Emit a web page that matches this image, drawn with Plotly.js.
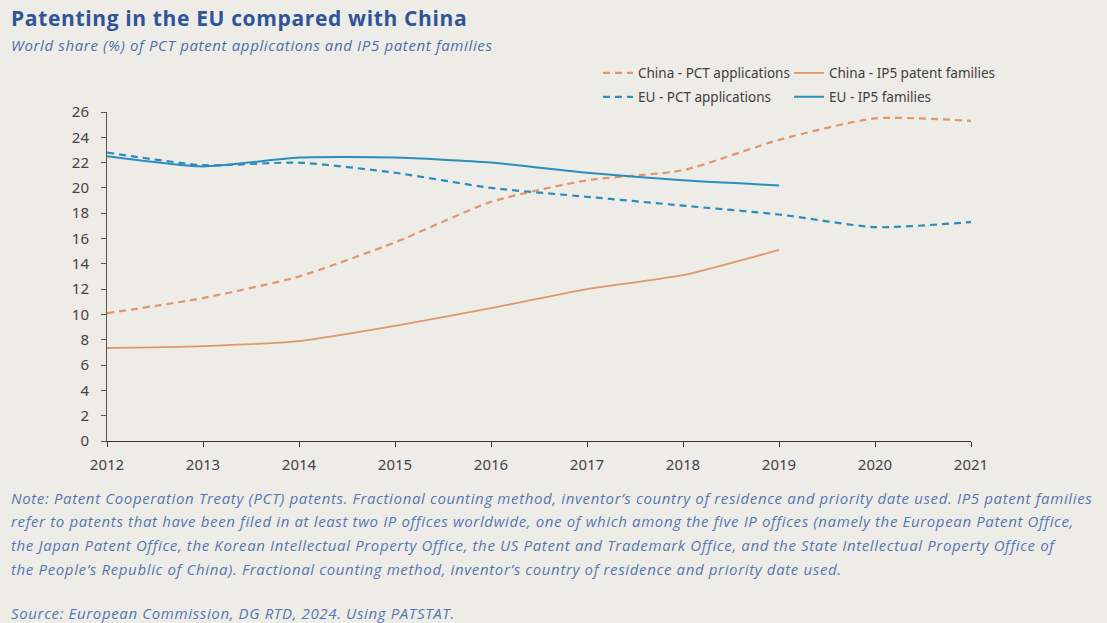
<!DOCTYPE html>
<html>
<head>
<meta charset="utf-8">
<script src="https://cdn.plot.ly/plotly-3.0.1.min.js"></script>
<style>
html,body{margin:0;padding:0;background:#EEECE7;}
#chart{width:1107px;height:623px;}
.annotation-text{letter-spacing:0.64px;}
</style>
</head>
<body>
<div id="chart"></div>
<script>
const years = [2012, 2013, 2014, 2015, 2016, 2017, 2018, 2019, 2020, 2021];
const yearsIP5 = [2012, 2013, 2014, 2015, 2016, 2017, 2018, 2019];
const chinaPCT = [10.1, 11.3, 13.0, 15.7, 18.9, 20.6, 21.4, 23.8, 25.5, 25.3];
const chinaIP5 = [7.35, 7.5, 7.9, 9.1, 10.5, 12.0, 13.1, 15.1];
const euPCT = [22.8, 21.8, 22.0, 21.2, 20.0, 19.3, 18.6, 17.9, 16.9, 17.3];
const euIP5 = [22.5, 21.7, 22.4, 22.4, 22.0, 21.2, 20.6, 20.2];
const yTicks = [0, 2, 4, 6, 8, 10, 12, 14, 16, 18, 20, 22, 24, 26];
const seriesNames = ['China - PCT applications', 'China - IP5 patent families', 'EU - PCT applications', 'EU - IP5 families'];

const chinaColor = '#E0966C';
const euColor = '#2B8CBE';
const dashStyle = '7px,5px';

const traces = [
  {x: years, y: chinaPCT, name: seriesNames[0], mode: 'lines', legend: 'legend',
   line: {color: chinaColor, width: 2.2, dash: dashStyle, shape: 'spline', smoothing: 0.6}},
  {x: yearsIP5, y: chinaIP5, name: seriesNames[1], mode: 'lines', legend: 'legend2',
   line: {color: chinaColor, width: 1.8, shape: 'spline', smoothing: 0.5}},
  {x: years, y: euPCT, name: seriesNames[2], mode: 'lines', legend: 'legend3',
   line: {color: euColor, width: 2.2, dash: dashStyle, shape: 'spline', smoothing: 0.6}},
  {x: yearsIP5, y: euIP5, name: seriesNames[3], mode: 'lines', legend: 'legend4',
   line: {color: euColor, width: 2, shape: 'spline', smoothing: 0.6}}
];

const plotLeft = 107, plotW = 864;
const plotTop = 112, plotBottom = 441;
const ph = plotBottom - plotTop;
function py(p) { return (plotBottom - p) / ph; }
function pxp(p) { return (p - plotLeft) / plotW; }

const noteFont = {family: 'Open Sans, sans-serif', size: 15, color: '#5577B4'};
const noteLines = [
  'Note: Patent Cooperation Treaty (PCT) patents. Fractional counting method, inventor’s country of residence and priority date used. IP5 patent families',
  'refer to patents that have been filed in at least two IP offices worldwide, one of which among the five IP offices (namely the European Patent Office,',
  'the Japan Patent Office, the Korean Intellectual Property Office, the US Patent and Trademark Office, and the State Intellectual Property Office of',
  'the People’s Republic of China). Fractional counting method, inventor’s country of residence and priority date used.'
];
const noteY = [498, 521, 545, 569];
const textLeft = pxp(9);

const annotations = [
  {text: '<b>Patenting in the EU compared with China</b>', xref: 'paper', yref: 'paper',
   x: textLeft, y: py(18), xanchor: 'left', yanchor: 'middle', showarrow: false,
   font: {family: 'Open Sans, sans-serif', size: 21, color: '#2E5597', weight: 800}},
  {text: '<i>World share (%) of PCT patent applications and IP5 patent families</i>', xref: 'paper', yref: 'paper',
   x: textLeft, y: py(45), xanchor: 'left', yanchor: 'middle', showarrow: false,
   font: {family: 'Open Sans, sans-serif', size: 15, color: '#4A6FB0'}},
  {text: '<i>Source: European Commission, DG RTD, 2024. Using PATSTAT.</i>', xref: 'paper', yref: 'paper',
   x: textLeft, y: py(613), xanchor: 'left', yanchor: 'middle', showarrow: false, font: noteFont}
];
noteLines.forEach((t, i) => annotations.push({
  text: '<i>' + t + '</i>', xref: 'paper', yref: 'paper', x: textLeft, y: py(noteY[i]),
  xanchor: 'left', yanchor: 'middle', showarrow: false, font: noteFont
}));

const legendCommon = {
  orientation: 'h', xref: 'paper', yref: 'paper', xanchor: 'left', yanchor: 'middle',
  bgcolor: 'rgba(0,0,0,0)', font: {family: 'Noto Sans, sans-serif', size: 13.5, color: '#404040'},
  itemwidth: 30
};

const layout = {
  width: 1107, height: 623,
  paper_bgcolor: '#EEECE7', plot_bgcolor: '#EEECE7',
  margin: {l: 107, r: 136, t: 112, b: 182},
  showlegend: true,
  legend: Object.assign({}, legendCommon, {x: pxp(598), y: py(73)}),
  legend2: Object.assign({}, legendCommon, {x: pxp(789), y: py(73)}),
  legend3: Object.assign({}, legendCommon, {x: pxp(598), y: py(97)}),
  legend4: Object.assign({}, legendCommon, {x: pxp(789), y: py(97)}),
  xaxis: {
    range: [2012, 2021], tickvals: years, ticktext: years.map(String),
    showgrid: false, zeroline: false, showline: true, linecolor: '#333333', linewidth: 1.2,
    ticks: 'outside', ticklen: 5, tickcolor: '#333333', ticklabelstandoff: 5,
    tickfont: {family: 'Noto Sans, sans-serif', size: 15, color: '#444444'}, fixedrange: true
  },
  yaxis: {
    range: [0, 26], tickvals: yTicks, ticktext: yTicks.map(String),
    showgrid: false, zeroline: false, showline: true, linecolor: '#555555', linewidth: 1,
    ticks: 'outside', ticklen: 5, tickcolor: '#555555', ticklabelstandoff: 9,
    tickfont: {family: 'Noto Sans, sans-serif', size: 15, color: '#444444'}, fixedrange: true
  },
  annotations: annotations
};

Plotly.newPlot('chart', traces, layout, {displayModeBar: false, staticPlot: true});
</script>
</body>
</html>
